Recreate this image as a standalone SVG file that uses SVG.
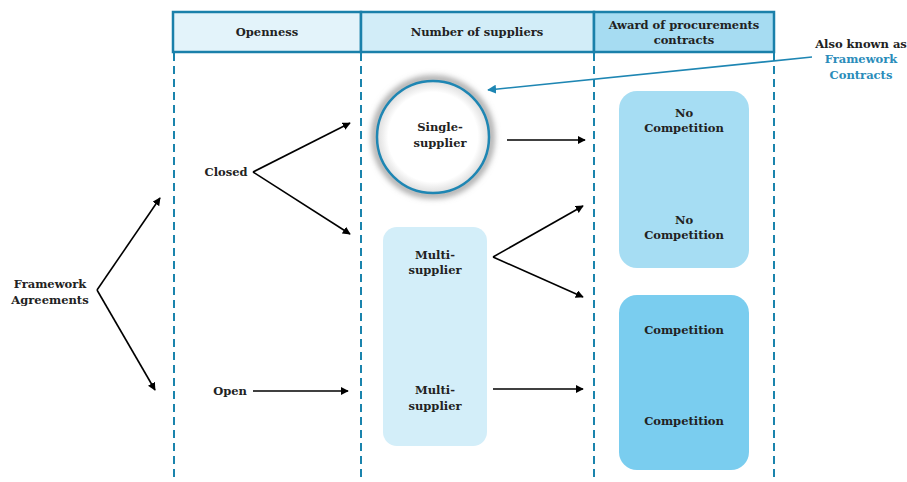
<svg xmlns="http://www.w3.org/2000/svg" width="907" height="482" viewBox="0 0 907 482">
<style>
text{font-family:"DejaVu Serif","Liberation Serif",serif;font-weight:bold;font-size:11.5px;fill:#222;text-anchor:middle}
.blue{fill:#2a8cba}
.dash{stroke:#1a84ad;stroke-width:2;stroke-dasharray:8,5;fill:none}
.hdr{stroke:#1a80aa;stroke-width:2.5}
.arr{stroke:#000;stroke-width:1.6;fill:none;marker-end:url(#ah)}
</style>
<defs>
<marker id="ah" viewBox="0 0 10 10" refX="9" refY="5" markerWidth="8" markerHeight="8" markerUnits="userSpaceOnUse" orient="auto"><path d="M0,0L10,5L0,10z" fill="#000"/></marker>
<marker id="ahb" viewBox="0 0 10 10" refX="9" refY="5" markerWidth="9" markerHeight="9" markerUnits="userSpaceOnUse" orient="auto"><path d="M0,0L10,5L0,10z" fill="#1e86b3"/></marker>
<filter id="blur" x="-30%" y="-30%" width="160%" height="160%"><feGaussianBlur stdDeviation="3"/></filter>
<radialGradient id="cg"><stop offset="0.8" stop-color="#fff"/><stop offset="1" stop-color="#ddd"/></radialGradient>
</defs>
<rect width="907" height="482" fill="#fff"/>
<g id="grid">
<rect x="173" y="12" width="188" height="40" fill="#e3f3fa" class="hdr"/>
<rect x="361" y="12" width="233" height="40" fill="#d2edf8" class="hdr"/>
<rect x="594" y="12" width="180" height="40" fill="#a6dcf2" class="hdr"/>
<line x1="174" y1="53" x2="174" y2="482" class="dash"/>
<line x1="361" y1="53" x2="361" y2="482" class="dash"/>
<line x1="594" y1="53" x2="594" y2="482" class="dash"/>
<line x1="774" y1="53" x2="774" y2="482" class="dash"/>
<text x="267" y="36">Openness</text>
<text x="477" y="36">Number of suppliers</text>
<text x="684" y="29">Award of procurements</text>
<text x="684" y="44">contracts</text>
</g>
<g id="framework"><text x="50" y="288">Framework</text><text x="50" y="304">Agreements</text></g>
<g id="closed"><text x="226" y="176">Closed</text></g>
<g id="open"><text x="230" y="395">Open</text></g>
<g id="single">
<circle cx="433" cy="137" r="58" fill="none" stroke="#999" stroke-width="6" filter="url(#blur)"/>
<circle cx="433" cy="137" r="56" fill="url(#cg)" stroke="#1e86b3" stroke-width="2.5"/>
<text x="440" y="131">Single-</text><text x="440" y="147">supplier</text>
</g>
<g id="multi">
<rect x="383" y="227" width="104" height="219" rx="14" fill="#d3eef9"/>
<text x="435" y="259">Multi-</text><text x="435" y="274">supplier</text>
<text x="435" y="394">Multi-</text><text x="435" y="410">supplier</text>
</g>
<g id="nocomp">
<rect x="619" y="91" width="130" height="177" rx="18" fill="#a6ddf3"/>
<text x="684" y="117">No</text><text x="684" y="132">Competition</text>
<text x="684" y="224">No</text><text x="684" y="239">Competition</text>
</g>
<g id="comp">
<rect x="619" y="295" width="130" height="175" rx="18" fill="#7acdef"/>
<text x="684" y="334">Competition</text>
<text x="684" y="425">Competition</text>
</g>
<g id="note">
<text x="861" y="48">Also known as</text>
<text x="861" y="63" class="blue">Framework</text>
<text x="861" y="79" class="blue">Contracts</text>
</g>
<g id="connectors">
<line x1="97" y1="290" x2="160" y2="198" class="arr"/>
<line x1="97" y1="290" x2="155" y2="390" class="arr"/>
<line x1="253" y1="172" x2="350" y2="123" class="arr"/>
<line x1="253" y1="172" x2="350" y2="234" class="arr"/>
<line x1="253" y1="391" x2="348" y2="391" class="arr"/>
<line x1="507" y1="140" x2="585" y2="140" class="arr"/>
<line x1="493" y1="257" x2="583" y2="206" class="arr"/>
<line x1="493" y1="257" x2="583" y2="297" class="arr"/>
<line x1="493" y1="389" x2="583" y2="389" class="arr"/>
<line x1="812" y1="57" x2="488" y2="90" stroke="#1e86b3" stroke-width="1.6" marker-end="url(#ahb)"/>
</g>
</svg>
